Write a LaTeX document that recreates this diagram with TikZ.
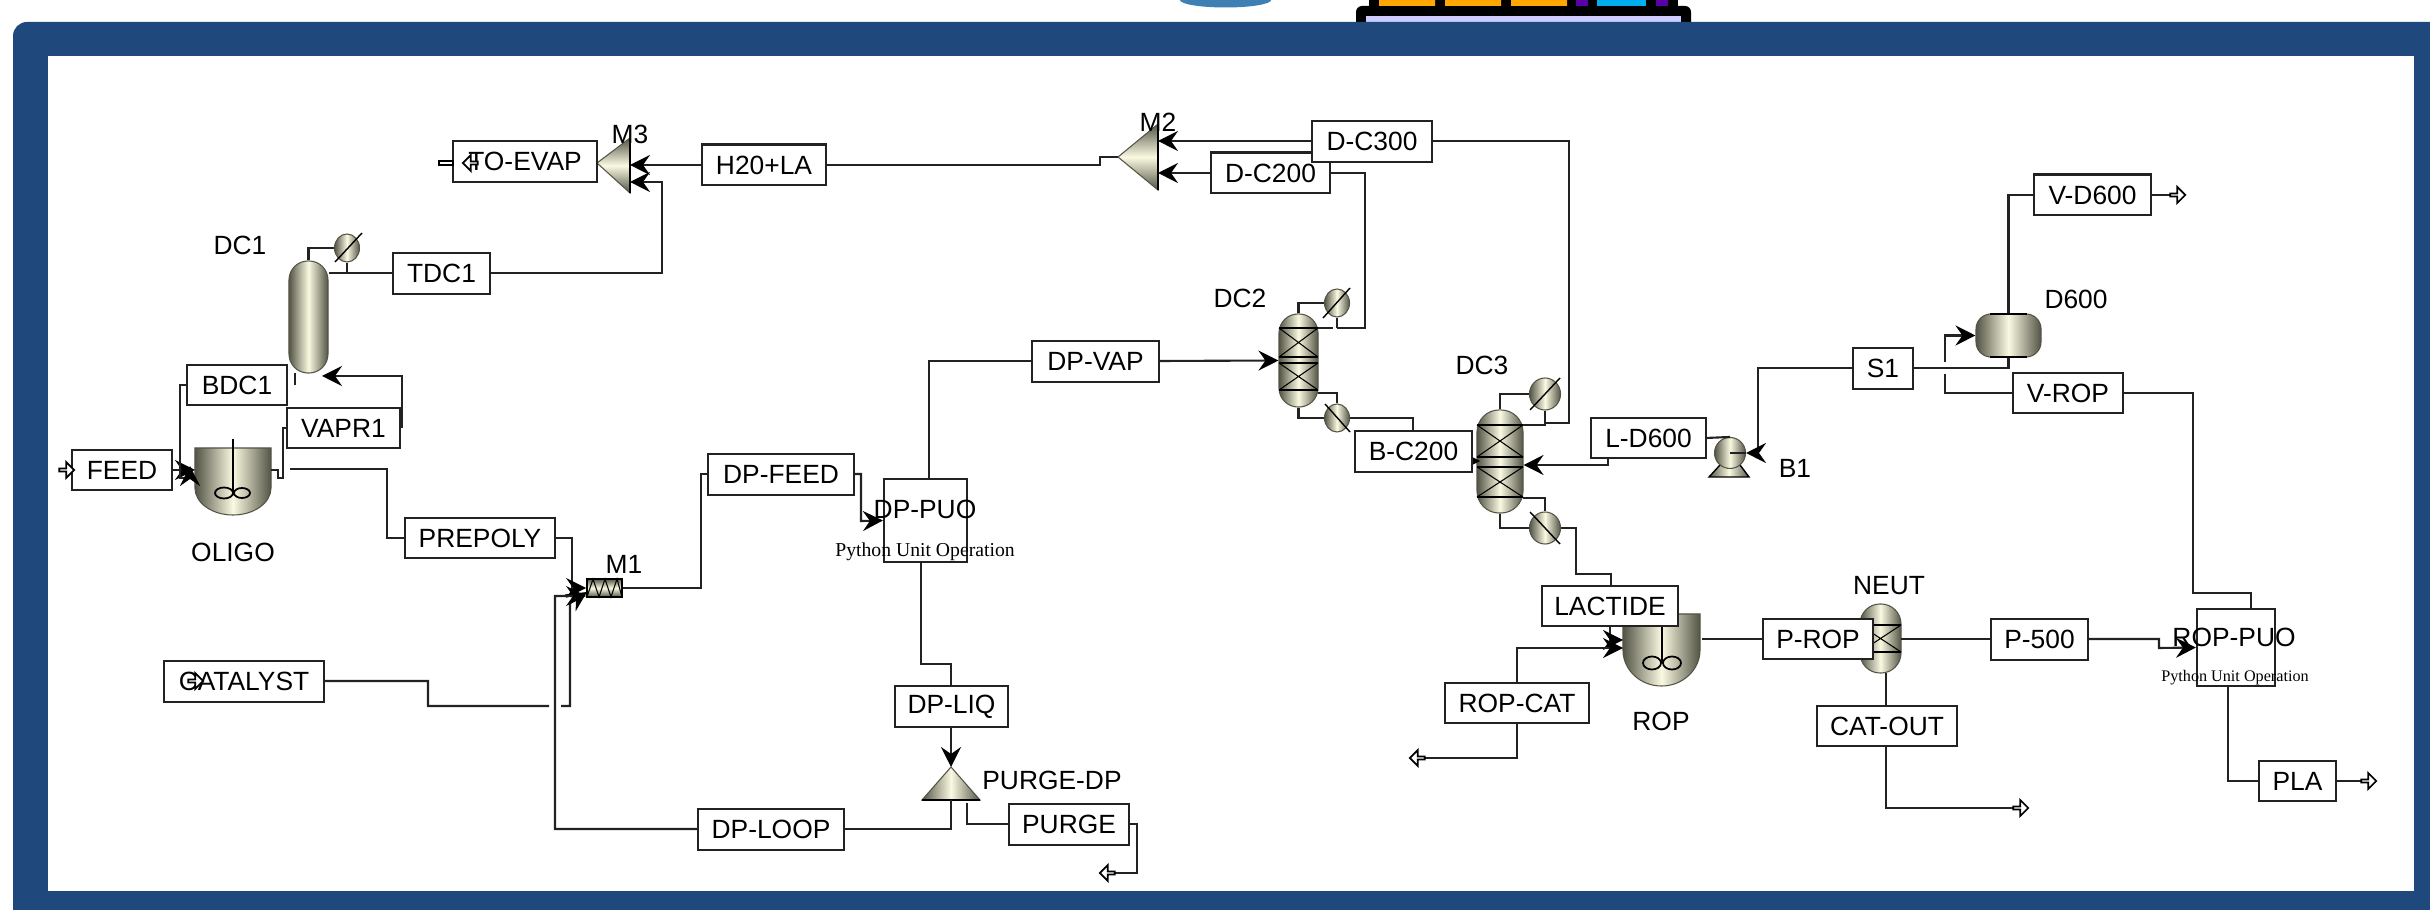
\documentclass[tikz,border=0pt]{standalone}
\usepackage{fontspec}
\setmainfont{Liberation Sans}
\newfontfamily\pyfont{Liberation Serif}
\usepackage{xcolor}
\usetikzlibrary{shapes.geometric, shapes.arrows, arrows.meta, positioning, calc}
\definecolor{frameblue}{RGB}{31, 73, 124}
\definecolor{logoblue}{RGB}{62, 128, 180}
\definecolor{eqdark}{RGB}{84, 84, 70}
\definecolor{eqlight}{RGB}{250, 250, 226}
\definecolor{lineblack}{RGB}{34, 34, 34}
\tikzset{
  stream/.style={lineblack, line width=0.6pt},
  flow/.style={stream, -{Stealth[length=.2cm, width=.2cm, inset=.07cm, black]}},
  lbl/.style={draw=lineblack, line width=0.7pt, fill=white, inner sep=0pt,
              minimum height=.405cm, font=\fontsize{7.5}{9}\selectfont},
  tag/.style={inner sep=0pt, font=\fontsize{7.5}{9}\selectfont},
  pytag/.style={inner sep=0pt, font=\pyfont\fontsize{5.6}{7}\selectfont},
  eqh/.style={left color=eqdark, right color=eqdark, middle color=eqlight},
  eqv/.style={top color=eqdark, bottom color=eqdark, middle color=eqlight},
  tower/.style={eqh, draw=eqdark, line width=0.3pt, inner sep=0pt},
  hxoval/.style={ellipse, eqh, draw=eqdark, line width=0.3pt, inner sep=0pt,
                 minimum width=.25cm, minimum height=.28cm},
  band/.style={black, line width=0.8pt},
  packed/.style={black, line width=0.3pt},
  port/.style={single arrow, draw=black, fill=white, line width=0.5pt, inner sep=0pt,
               minimum height=.15cm, minimum width=.16cm, single arrow head extend=.04cm},
  uop/.style={draw=lineblack, line width=0.6pt, inner sep=0pt},
}

\begin{document}
\begin{tikzpicture}[x=0.01cm, y=-0.01cm]
\useasboundingbox (0,0) rectangle (2430,910);
\fill[white] (0,0) rectangle (2430,910);

% Bits of the slide above the frame
\fill[logoblue] (1180,0) arc[start angle=180, end angle=360, x radius=.455cm, y radius=.075cm] -- cycle;
\fill[black, rounded corners=.06cm] (1356,30) -- (1356,6) -- (1691,6) -- (1691,30) -- cycle;
\fill[black] (1369,0) rectangle (1678,8);
\fill[orange!70!yellow] (1379,0) rectangle (1435,6) (1445,0) rectangle (1501,6) (1511,0) rectangle (1567,6);
\fill[violet!70!blue] (1576,0) rectangle (1588,6) (1656,0) rectangle (1668,6);
\fill[cyan] (1597,0) rectangle (1646,6);
\fill[blue!20] (1366,16) rectangle (1681,22);

% Frame
\fill[frameblue] (2430,910) -- (13,910) [rounded corners=.14cm] -- (13,22) [sharp corners] -- (2430,22) -- cycle;
\fill[white] (48,56) rectangle (2414,891);

% Mixers and splitter
\path[eqv, draw=eqdark, line width=0.3pt] (597,163) -- (630,138) -- (630,193) -- cycle;
\draw[black, line width=0.8pt] (630,138) -- (630,193);
\path[eqv, draw=eqdark, line width=0.3pt] (1118,157) -- (1158,124) -- (1158,190) -- cycle;
\draw[black, line width=0.8pt] (1158,124) -- (1158,190);
\path[eqh, draw=eqdark, line width=0.3pt] (951,767) -- (980,800) -- (922,800) -- cycle;
\draw[black, line width=0.8pt] (922,800) -- (980,800);
\coordinate (m3a) at (630,165);
\coordinate (m3b) at (630,182);
\coordinate (m2a) at (1158,141);
\coordinate (m2b) at (1158,173);
\coordinate (m2out) at (1118,157);
\coordinate (purgetop) at (951,767);
\coordinate (purgebot) at (951,800);

% Columns
\node[tower, minimum width=.39cm, minimum height=1.12cm, rounded corners=.19cm] (dc1) at (308.5,317) {};
\node[hxoval] (cond1) at (347,248) {};
\node[tower, minimum width=.39cm, minimum height=.93cm, rounded corners=.19cm] (dc2) at (1298.5,360.5) {};
\node[hxoval] (cond2) at (1337,303) {};
\node[hxoval] (reb2) at (1337,418) {};
\node[tower, minimum width=.46cm, minimum height=1.03cm, rounded corners=.22cm] (dc3) at (1500,461.5) {};
\node[hxoval, minimum width=.31cm, minimum height=.32cm] (cond3) at (1545,394) {};
\node[hxoval, minimum width=.31cm, minimum height=.32cm] (reb3) at (1545,528) {};
\node[tower, minimum width=.41cm, minimum height=.69cm, rounded corners=.2cm] (neut) at (1880.5,638.5) {};
\node[tower, minimum width=.65cm, minimum height=.43cm, rounded corners=.15cm] (d600) at (2008.5,335.5) {};
\draw[band] (1990,314) -- (2027,314) (1990,357) -- (2027,357);

% Packing sections
\draw[packed] (1279,328) -- (1318,357) (1279,357) -- (1318,328) (1279,363) -- (1318,390) (1279,390) -- (1318,363);
\draw[band] (1279,328) -- (1318,328) (1279,357) -- (1318,357) (1279,363) -- (1318,363) (1279,390) -- (1318,390);
\draw[packed] (1477,425) -- (1523,457) (1477,457) -- (1523,425) (1477,467) -- (1523,497) (1477,497) -- (1523,467);
\draw[band] (1477,425) -- (1523,425) (1477,457) -- (1523,457) (1477,467) -- (1523,467) (1477,497) -- (1523,497);
\draw[packed] (1860,625) -- (1901,652) (1860,652) -- (1901,625);
\draw[band] (1860,625) -- (1901,625) (1860,652) -- (1901,652);

% Reactors
\path[eqh, draw=eqdark, line width=0.3pt] (195,448) -- (271,448) -- (271,488)
    arc[start angle=0, end angle=-180, x radius=.38cm, y radius=.27cm] -- cycle;
\path[eqh, draw=eqdark, line width=0.3pt] (1623,614) -- (1700,614) -- (1700,650)
    arc[start angle=0, end angle=-180, x radius=.385cm, y radius=.36cm] -- cycle;
\coordinate (oligo) at (233,493);
\coordinate (rop) at (1662,663);
\draw[black, line width=0.5pt] (233,439) -- (oligo) (1662,626) -- (rop);
\draw[black, line width=0.5pt] (224,493) ellipse[x radius=.09cm, y radius=.055cm] (242,493) ellipse[x radius=.08cm, y radius=.05cm];
\draw[black, line width=0.5pt] (1652,663) ellipse[x radius=.09cm, y radius=.065cm] (1672,663) ellipse[x radius=.09cm, y radius=.065cm];

% Pump
\path[eqh, draw=black, line width=0.4pt] (1720,465) -- (1740,465) -- (1749,477) -- (1709,477) -- cycle;
\node[circle, eqh, draw=eqdark, line width=0.3pt, inner sep=0pt, minimum size=.31cm] (b1) at (1730,453) {};

% Heater block
\node[draw=black, line width=0.5pt, eqv, inner sep=0pt, minimum width=.35cm, minimum height=.18cm] (m1) at (604.5,588) {};
\draw[black, line width=0.3pt] (587,597) -- (593,579) -- (599,597) -- (605,579) -- (611,597) -- (617,579) -- (622,597);

% Unit operation boxes
\node[uop, minimum width=.83cm, minimum height=.83cm] (dppuo) at (925.5,520.5) {};
\node[uop, minimum width=.78cm, minimum height=.77cm] (roppuo) at (2236,647.5) {};

% Streams, left part
\draw[stream] (dc1.north) |- (cond1.west);
\draw[stream] (cond1.south) -- (cond1.south |- dc1.east |- 0,273);
\draw[stream] (329,273) -- (393,273);
\draw[stream] (295,385) -- (295,373);
\draw[flow] (172,470) -- (195,470);
\draw[flow] (187,385) -- (180,385) -- (180,478) -- (190,478) -- (190,466);
\draw[flow] (402,428) -- (402,376) -- (322,376);
\draw[stream] (287,428) -- (283,428) -- (283,478) -- (278,478) -- (278,470) -- (271,470);
\draw[stream] (290,469) -| (387,538) -- (405,538);
\draw[flow] (555,538) -| (572,588) -- (m1.west);
\draw[flow] (324,681) -| (428,706) -- (549,706) (561,706) -- (570,706) -- (570,603) -- (587,592);
\draw[flow] (698,829) -| (555,596) -- ([yshift=-.08cm]m1.west);
\draw[stream] (m1.east) -| (701,474) -- (708,474);
\draw[flow] (854,474) -| (861,521) -- (dppuo.west);
\draw[stream] (929,479) |- (1032,361);
\draw[flow] (1159,361) -- (dc2.west);
\draw[stream] (921,562) |- (951,664) -- (951,686);
\draw[flow] (951,727) -- (purgetop);
\draw[stream] (purgebot) |- (844,829);
\draw[stream] (967,803) |- (1009,824);
\draw[stream] (1129,824) -| (1137,873) -- (1115,873);

% Streams, top part
\draw[flow] (490,273) -| (662,182) -- (m3b);
\draw[flow] (702,165) -- (m3a);
\draw[stream] (826,165) -| (1100,157) -- (m2out);
\draw[flow] (1312,141) -- (m2a);
\draw[flow] (1211,173) -- (m2b);
\draw[stream] (1330,173) -| (1365,328) -- (1337,328);
\draw[stream] (1333,328) -- (1318,328);
\draw[stream] (1432,141) -| (1569,423) -- (1545,423);

% Streams, columns DC2 and DC3
\draw[stream] (dc2.north) |- (cond2.west);
\draw[stream] (cond2.south) -- (1337,328);
\draw[stream] (dc2.south) |- (reb2.west);
\draw[stream] (1318,393) -| (reb2.north);
\draw[stream] (reb2.east) -| (1413,431);
\draw[flow] (1472,461) -- (1480,461);
\draw[stream] (dc3.north) |- (cond3.west);
\draw[stream] (cond3.south) -- (1545,425) -- (1523,425);
\draw[stream] (dc3.south) |- (reb3.west);
\draw[stream] (1523,498) -| (reb3.north);
\draw[stream] (reb3.east) -| (1576,574) -| (1611,586);
\draw[flow] (1608,458) |- (dc3.east |- 0,465);

% Streams, right part
\draw[stream] (1706,438) -- (b1.north);
\draw[flow] (1853,368) -| (1758,453) -- (1746,453);
\draw[stream] (1746,453) -- (b1.center);
\draw[stream] (1913,368) -| (d600.south);
\draw[stream] (d600.north) |- (2034,195);
\draw[stream] (2151,195) -- (2170,195);
\draw[stream] (2013,393) -| (1945,374);
\draw[flow] (1945,362) |- (d600.west);
\draw[stream] (2123,393) -| (2193,593) -| (2251,609);
\draw[flow] (1610,626) |- (1623,640);
\draw[flow] (1517,683) |- (1623,648);
\draw[stream] (1517,723) |- (1425,758);
\draw[stream] (1702,639) -- (1763,639);
\draw[stream] (1901,639) -- (1991,639);
\draw[stream] (1886,673) -- (1886,706);
\draw[stream] (1886,746) |- (2013,808);
\draw[flow] (2088,639) -| (2159,648) -- (roppuo.west);
\draw[stream] (2228,686) |- (2259,781);
\draw[stream] (2336,781) -- (2361,781);

% Stream labels
\node[lbl, minimum width=1.44cm] (toevap) at (525,161.5) {TO-EVAP};
\node[lbl, minimum width=1.24cm] (h2ola) at (764,165) {H20+LA};
\node[lbl, minimum width=.97cm] (tdc1) at (441.5,273.5) {TDC1};
\node[lbl, minimum width=1.00cm] (bdc1) at (237,385) {BDC1};
\node[lbl, minimum width=1.13cm] (vapr1) at (343.5,428) {VAPR1};
\node[lbl, minimum width=1.00cm] (feed) at (122,470) {FEED};
\node[lbl, minimum width=1.50cm] (prepoly) at (480,538) {PREPOLY};
\node[lbl, minimum width=1.60cm] (catalyst) at (244,681.5) {CATALYST};
\node[lbl, minimum width=1.46cm] (dpfeed) at (781,474.5) {DP-FEED};
\node[lbl, minimum width=1.27cm] (dpvap) at (1095.5,361.5) {DP-VAP};
\node[lbl, minimum width=1.13cm] (dpliq) at (951.5,706.5) {DP-LIQ};
\node[lbl, minimum width=1.46cm] (dploop) at (771,829.5) {DP-LOOP};
\node[lbl, minimum width=1.20cm] (purge) at (1069,824.5) {PURGE};
\node[lbl, minimum width=1.19cm] (dc200) at (1270.5,173) {D-C200};
\node[lbl, minimum width=1.20cm] (dc300) at (1372,141.5) {D-C300};
\node[lbl, minimum width=1.17cm] (bc200) at (1413.5,451.5) {B-C200};
\node[lbl, minimum width=1.15cm] (ld600) at (1648.5,438) {L-D600};
\node[lbl, minimum width=.60cm] (s1) at (1883,368.5) {S1};
\node[lbl, minimum width=1.17cm] (vd600) at (2092.5,195) {V-D600};
\node[lbl, minimum width=1.10cm] (vrop) at (2068,393) {V-ROP};
\node[lbl, minimum width=1.36cm] (lactide) at (1610,606) {LACTIDE};
\node[lbl, minimum width=1.44cm] (ropcat) at (1517,703) {ROP-CAT};
\node[lbl, minimum width=1.10cm] (prop) at (1818,639) {P-ROP};
\node[lbl, minimum width=.97cm] (p500) at (2039.5,639.5) {P-500};
\node[lbl, minimum width=1.40cm] (catout) at (1887,726) {CAT-OUT};
\node[lbl, minimum width=.77cm] (pla) at (2297.5,781) {PLA};

% Block names
\node[tag] (tagm3) at (630,134) {M3};
\node[tag] (tagm2) at (1158,122) {M2};
\node[tag] (tagm1) at (624,564) {M1};
\node[tag] (tagdc1) at (240,245) {DC1};
\node[tag] (tagdc2) at (1240,298) {DC2};
\node[tag] (tagdc3) at (1482,365) {DC3};
\node[tag] (tagoligo) at (233,552) {OLIGO};
\node[tag] (tagrop) at (1661,721) {ROP};
\node[tag] (tagneut) at (1889,586) {NEUT};
\node[tag] (tagb1) at (1795,468) {B1};
\node[tag] (tagd600) at (2076,299) {D600};
\node[tag] (tagpurgedp) at (1052,780) {PURGE-DP};
\node[tag] (tagdppuo) at (925,509) {DP-PUO};
\node[tag] (tagroppuo) at (2234,637) {ROP-PUO};
\node[pytag] (pydp) at (925,552) {Python Unit Operation};
\node[pytag, font=\pyfont\fontsize{4.6}{6}\selectfont] (pyrop) at (2235,678) {Python Unit Operation};

% Condenser and reboiler slashes
\draw[black, line width=0.4pt] (335,262) -- (362,233);
\draw[black, line width=0.4pt] (1323,318) -- (1350,288);
\draw[black, line width=0.4pt] (1325,404) -- (1350,432);
\draw[black, line width=0.4pt] (1530,410) -- (1560,378);
\draw[black, line width=0.4pt] (1530,512) -- (1560,544);

% Feed and product ports
\node[port] (feedport) at (66,470) {};
\node[port] (catport) at (195,681) {};
\node[port, rotate=180] (evapport) at (471,163) {};
\node[draw=black, fill=white, line width=0.4pt, inner sep=0pt, minimum width=.14cm, minimum height=.04cm] (evapstub) at (446,163) {};
\node[port, rotate=180] (ropcatport) at (1418,758) {};
\node[port, rotate=180] (purgeport) at (1108,873) {};
\node[port] (vd600port) at (2177,195) {};
\node[port] (catoutport) at (2020,808) {};
\node[port] (plaport) at (2368,781) {};

\end{tikzpicture}
\end{document}
